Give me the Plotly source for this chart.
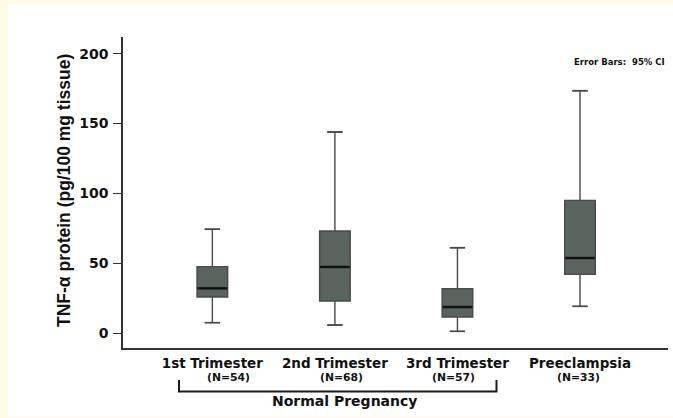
import plotly.graph_objects as go

categories = ["1st Trimester", "2nd Trimester", "3rd Trimester", "Preeclampsia"]
n_labels = ["(N=54)", "(N=68)", "(N=57)", "(N=33)"]
lower_whisker = [7.4, 5.7, 1.2, 19.1]
q1_vals = [25.8, 22.9, 11.5, 42.0]
median_vals = [32.0, 47.3, 18.6, 53.7]
q3_vals = [47.5, 73.0, 31.7, 95.0]
upper_whisker = [74.3, 143.9, 61.1, 173.5]
y_ticks = [0, 50, 100, 150, 200]

xs = list(range(len(categories)))
BOX_W = 0.25
CAP_HW = 0.062
MED_HW = BOX_W / 2 - 0.004

fig = go.Figure()

fig.add_trace(go.Box(
    x=xs, q1=q1_vals, median=median_vals, q3=q3_vals,
    lowerfence=lower_whisker, upperfence=upper_whisker,
    width=BOX_W, fillcolor="#59645f",
    line=dict(color="#4a4a4a", width=1.4),
    boxpoints=False, hoverinfo="skip", showlegend=False,
))

def segs(vals, hw):
    sx, sy = [], []
    for i, v in zip(xs, vals):
        sx += [i - hw, i + hw, None]
        sy += [v, v, None]
    return sx, sy

lx, ly = segs(lower_whisker, CAP_HW)
ux, uy = segs(upper_whisker, CAP_HW)
fig.add_trace(go.Scatter(x=lx + ux, y=ly + uy, mode="lines",
                         line=dict(color="#4a4a4a", width=1.6),
                         hoverinfo="skip", showlegend=False))
mx, my = segs(median_vals, MED_HW)
fig.add_trace(go.Scatter(x=mx, y=my, mode="lines",
                         line=dict(color="#111111", width=2.4),
                         hoverinfo="skip", showlegend=False))

L, R, T, B = 123, 5, 37, 70
W, H = 673, 418
pw, ph = W - L - R, H - T - B

def px_to_paper_x(px):
    return (px - L) / pw

def px_to_paper_y(py):
    return (H - B - py) / ph

shapes = [
    dict(type="rect", xref="paper", yref="paper", layer="below",
         x0=px_to_paper_x(8), x1=px_to_paper_x(676),
         y0=px_to_paper_y(417), y1=px_to_paper_y(4),
         fillcolor="white", line=dict(width=0)),
    dict(type="path", xref="paper", yref="paper",
         path=(f"M {px_to_paper_x(179)},{px_to_paper_y(380)} "
               f"L {px_to_paper_x(179)},{px_to_paper_y(391.5)} "
               f"L {px_to_paper_x(496.5)},{px_to_paper_y(391.5)} "
               f"L {px_to_paper_x(496.5)},{px_to_paper_y(380)}"),
         line=dict(color="#1a1a1a", width=2)),
]

n_shift = [16, 7, -4, -2]
annotations = []
for i, (lab, sh) in enumerate(zip(n_labels, n_shift)):
    annotations.append(dict(
        x=i, xref="x", y=px_to_paper_y(377), yref="paper",
        text=lab, showarrow=False, xshift=sh,
        font=dict(family="DejaVu Sans", size=10.8, color="#111", weight="bold"),
        xanchor="center", yanchor="middle"))
annotations.append(dict(
    x=px_to_paper_x(344), xref="paper", y=px_to_paper_y(401), yref="paper",
    text="Normal Pregnancy", showarrow=False,
    font=dict(family="DejaVu Sans", size=14, color="#111", weight="bold"),
    xanchor="center", yanchor="middle"))
annotations.append(dict(
    x=px_to_paper_x(667), xref="paper", y=px_to_paper_y(62), yref="paper",
    text="Error Bars:  95% CI", showarrow=False,
    font=dict(family="DejaVu Sans", size=8.5, color="#111", weight="bold"),
    xanchor="right", yanchor="middle"))
annotations.append(dict(
    x=px_to_paper_x(64), xref="paper", y=px_to_paper_y(191), yref="paper",
    text="TNF-α protein (pg/100 mg tissue)", showarrow=False, textangle=-90,
    font=dict(family="Liberation Sans", size=17.5, color="#111", weight="bold"),
    xanchor="center", yanchor="middle"))

fig.update_layout(
    width=W, height=H,
    margin=dict(l=L, r=R, t=T, b=B, pad=0),
    paper_bgcolor="#fffbe6", plot_bgcolor="rgba(0,0,0,0)",
    shapes=shapes, annotations=annotations,
    showlegend=False,
    xaxis=dict(range=[-0.729, 3.718], tickvals=xs, ticktext=categories,
               showgrid=False, zeroline=False, showline=True,
               linecolor="#333", linewidth=1.6, ticks="",
               tickfont=dict(family="DejaVu Sans", size=13.5, color="#111", weight="bold"),
               ticklabelstandoff=2),
    yaxis=dict(range=[-10.74, 211.96], tickvals=y_ticks,
               showgrid=False, zeroline=False, showline=True,
               linecolor="#333", linewidth=1.6, ticks="outside",
               ticklen=8, tickwidth=1.2, tickcolor="#333",
               tickfont=dict(family="DejaVu Sans", size=14, color="#111", weight="bold"),
               ticklabelstandoff=2),
)

fig.write_html("out.html")
